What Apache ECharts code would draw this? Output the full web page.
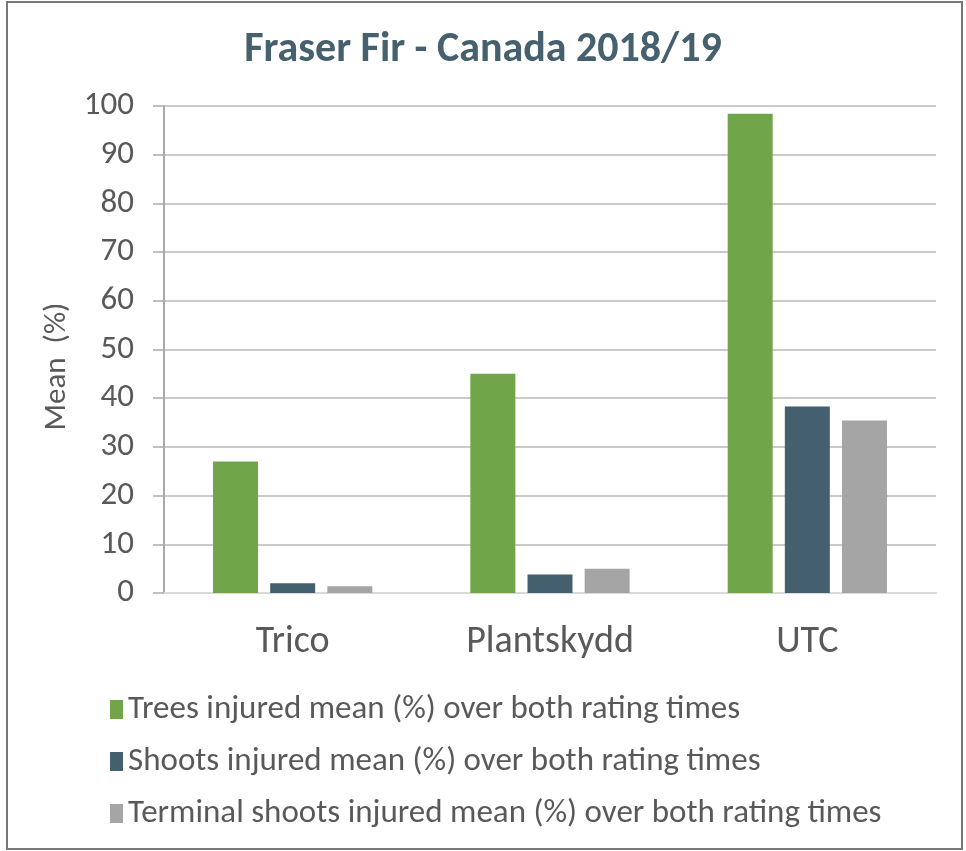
<!DOCTYPE html>
<html lang="en">
<head>
    <meta charset="UTF-8">
    <title>Fraser Fir - Canada 2018/19</title>
    <script src="https://cdn.jsdelivr.net/npm/echarts@6/dist/echarts.min.js"></script>
    <style>
        html, body { margin: 0; padding: 0; background: #fff; }
        #main { width: 966px; height: 851px; }
    </style>
</head>
<body>
    <div id="main"></div>
    <script>
        // data
        var categories = ['Trico', 'Plantskydd', 'UTC']
        var treesInjured = [27, 45, 98.4]
        var shootsInjured = [2, 3.8, 38.3]
        var terminalInjured = [1.4, 5, 35.4]
        var seriesNames = [
            'Trees injured mean (%) over both rating times',
            'Shoots injured mean (%) over both rating times',
            'Terminal shoots injured mean (%) over both rating times'
        ]
        var colors = ['#70a54a', '#445f6d', '#a5a5a5']

        var textFont = 'Carlito, Calibri, Lato, sans-serif'
        var myChart = echarts.init(document.getElementById('main'))

        function bar(name, data, color) {
            return {
                name: name,
                type: 'bar',
                data: data,
                barWidth: 45,
                barGap: '27%',
                itemStyle: { color: color },
                emphasis: { disabled: true }
            }
        }

        var option = {
            animation: false,
            textStyle: { fontFamily: textFont },
            title: {
                text: 'Fraser Fir - Canada 2018/19',
                left: 'center',
                top: 24,
                textStyle: { fontSize: 42, fontWeight: 'bold', color: '#46606e', fontFamily: textFont }
            },
            legend: {
                orient: 'vertical',
                left: 105,
                top: 688,
                itemWidth: 13,
                itemHeight: 19,
                itemGap: 19,
                icon: 'rect',
                textStyle: { fontSize: 33, color: '#595959', fontFamily: textFont, padding: [0, 0, 0, 0] },
                data: seriesNames
            },
            grid: { left: 164, right: 30, top: 106, bottom: 258 },
            xAxis: {
                type: 'category',
                data: categories,
                axisLine: { lineStyle: { color: '#d9d9d9', width: 2 } },
                axisTick: { show: false },
                axisLabel: { fontSize: 38, color: '#595959', margin: 30 }
            },
            yAxis: {
                type: 'value',
                min: 0,
                max: 100,
                interval: 10,
                name: 'Mean  (%)',
                nameLocation: 'middle',
                nameRotate: 90,
                nameGap: 88,
                nameTextStyle: { fontSize: 31, color: '#595959', padding: [0, 34, 0, 0] },
                axisLine: { show: true, lineStyle: { color: '#aaaaaa', width: 2 } },
                axisTick: { show: true, length: 11, lineStyle: { color: '#aaaaaa', width: 1.5 } },
                axisLabel: { fontSize: 33, color: '#595959', margin: 30 },
                splitLine: { lineStyle: { color: '#b8b8b8', width: 1.5 } }
            },
            graphic: [{
                type: 'rect',
                silent: true,
                shape: { x: 7, y: 2, width: 955, height: 847 },
                style: { fill: 'none', stroke: '#777777', lineWidth: 2 }
            }],
            series: [
                bar(seriesNames[0], treesInjured, colors[0]),
                bar(seriesNames[1], shootsInjured, colors[1]),
                bar(seriesNames[2], terminalInjured, colors[2])
            ]
        }
        myChart.setOption(option)
    </script>
</body>
</html>
